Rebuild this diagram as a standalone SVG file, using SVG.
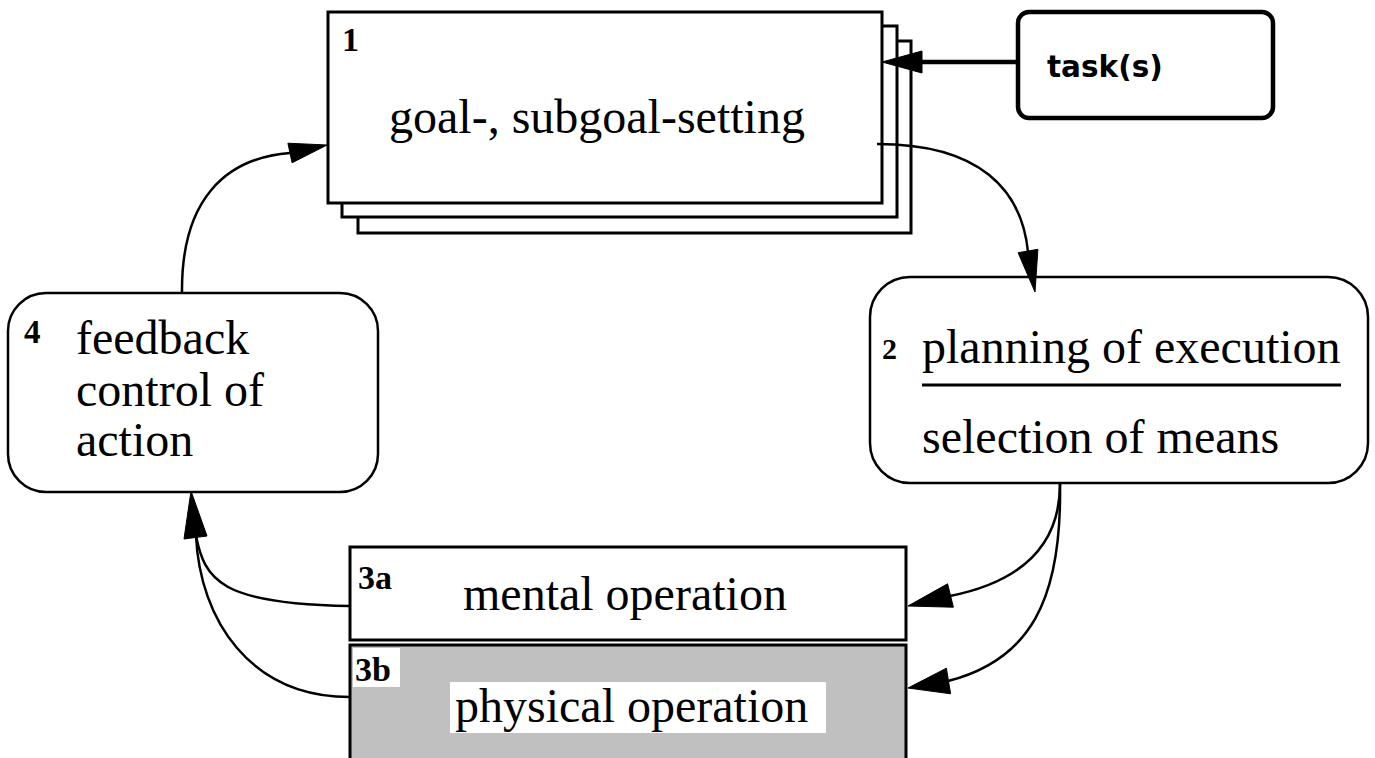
<svg xmlns="http://www.w3.org/2000/svg" width="1375" height="758" viewBox="0 0 1375 758">
  <style>
    .box { fill: #ffffff; stroke: #000000; stroke-width: 3; }
    .rbox { fill: #ffffff; stroke: #000000; stroke-width: 2.5; }
    .phys { fill: #c0c0c0; stroke: #000000; stroke-width: 3; }
    .txt { font-family: "Liberation Serif", "Times New Roman", serif; font-size: 48px; fill: #000000; }
    .num { font-family: "Liberation Serif", "Times New Roman", serif; font-weight: bold; fill: #000000; }
    .sans { font-family: "DejaVu Sans", "Liberation Sans", sans-serif; font-weight: bold; font-size: 29.5px; fill: #000000; }
    .conn { fill: none; stroke: #000000; stroke-width: 2.5; }
    .head { fill: #000000; stroke: #000000; stroke-width: 1; stroke-linejoin: miter; }
  </style>

  <rect width="1375" height="758" fill="#ffffff"/>

  <!-- 1: goal setting (stacked sheets) -->
  <g id="node-goal">
    <rect class="box" x="358" y="41" width="553" height="192"/>
    <rect class="box" x="342" y="26" width="555" height="191"/>
    <rect class="box" x="328" y="12" width="554" height="191"/>
    <text class="num" x="342" y="51" font-size="34">1</text>
    <text class="txt" x="389" y="133">goal-, subgoal-setting</text>
  </g>

  <!-- task input -->
  <g id="node-task">
    <rect x="1018" y="12" width="255" height="106" rx="11" ry="11" fill="#ffffff" stroke="#000000" stroke-width="4.5"/>
    <text class="sans" x="1047" y="77">task(s)</text>
  </g>

  <!-- 2: planning -->
  <g id="node-planning">
    <rect class="rbox" x="870" y="277" width="498" height="206" rx="40" ry="40"/>
    <text class="num" x="882" y="359" font-size="30">2</text>
    <text class="txt" x="922" y="363">planning of execution</text>
    <line x1="922" y1="385" x2="1341" y2="385" stroke="#000000" stroke-width="2.8"/>
    <text class="txt" x="922" y="453">selection of means</text>
  </g>

  <!-- 4: feedback -->
  <g id="node-feedback">
    <rect class="rbox" x="8" y="293" width="370" height="199" rx="38" ry="38"/>
    <text class="num" x="24" y="343" font-size="33">4</text>
    <text class="txt" x="76" y="354">feedback</text>
    <text class="txt" x="76" y="406">control of</text>
    <text class="txt" x="76" y="456">action</text>
  </g>

  <!-- 3a: mental operation -->
  <g id="node-mental">
    <rect class="box" x="350" y="547" width="556" height="93"/>
    <text class="num" x="358" y="589" font-size="34">3a</text>
    <text class="txt" x="463" y="610">mental operation</text>
  </g>

  <!-- 3b: physical operation -->
  <g id="node-physical">
    <rect class="phys" x="350" y="645" width="556" height="120"/>
    <rect x="353" y="648" width="47" height="39" fill="#ffffff"/>
    <text class="num" x="355" y="681" font-size="34">3b</text>
    <rect x="450" y="682" width="376" height="51" fill="#ffffff"/>
    <text class="txt" x="455" y="722">physical operation</text>
  </g>

  <g id="connectors">
    <!-- task(s) -> 1 -->
    <line x1="1018" y1="62" x2="918" y2="62" stroke="#000000" stroke-width="4.5"/>
    <polygon class="head" points="882,62 922,51 922,73"/>

    <!-- 1 -> 2 -->
    <path class="conn" d="M877,144 C980,144 1022,190 1028,252"/>
    <polygon class="head" points="1035,292 1037.9,249.3 1018.1,252.7"/>

    <!-- 2 -> 3a -->
    <path class="conn" d="M1060,484 C1060,550 1015,583 950,596"/>
    <polygon class="head" points="908,606 953.4,607.2 947.6,583.8"/>

    <!-- 2 -> 3b -->
    <path class="conn" d="M1060,484 C1062,600 1030,660 948,681"/>
    <polygon class="head" points="908,688 950.6,693.8 946.4,668.2"/>

    <!-- 3a -> 4 -->
    <path class="conn" d="M350,606 C220,604 205,580 196,536"/>
    <!-- 3b -> 4 -->
    <path class="conn" d="M350,697 C250,697 200,620 196,536"/>
    <polygon class="head" points="191,491 184,539 207,536"/>

    <!-- 4 -> 1 -->
    <path class="conn" d="M182,293 C181,200 225,158 290,153"/>
    <polygon class="head" points="327,145 292.1,162.8 287.9,143.2"/>
  </g>
</svg>
